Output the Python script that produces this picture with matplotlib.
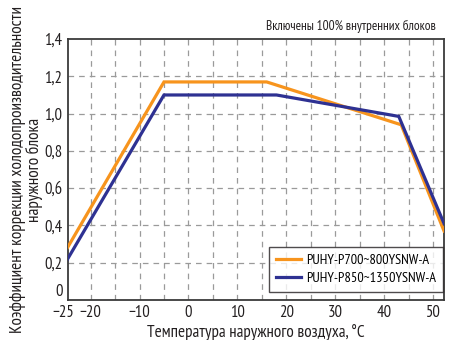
import matplotlib
matplotlib.use("Agg")
import matplotlib.pyplot as plt
import matplotlib.transforms as mtransforms

plt.rcParams['font.family'] = ['PT Sans Narrow', 'DejaVu Sans']

# Data
x_orange = [-25, -5, 16, 43.5, 52.25]
y_orange = [0.268, 1.17, 1.17, 0.94, 0.37]
x_blue = [-25, -5, 18, 43, 52.25]
y_blue = [0.206, 1.10, 1.10, 0.985, 0.41]
series_names = ["PUHY-P700~800YSNW-A", "PUHY-P850~1350YSNW-A"]
x_ticks = [-20, -10, 0, 10, 20, 30, 40, 50]
x_ticklabels = ["\u221220", "\u221210", "0", "10", "20", "30", "40", "50"]
x_first_tick = -25.6
x_first_label = "\u221225"
y_ticks = [0, 0.2, 0.4, 0.6, 0.8, 1.0, 1.2, 1.4]
y_ticklabels = ["0", "0,2", "0,4", "0,6", "0,8", "1,0", "1,2", "1,4"]

fig = plt.figure(figsize=(4.54, 3.4), dpi=100)
ax = fig.add_axes([0.150, 0.118, 0.828, 0.767])

for gx in range(-20, 51, 5):
    ax.axvline(gx, color="#9a9a9a", lw=0.9, ls=(0, (4.5, 4)), zorder=1)
for gy in y_ticks[1:-1]:
    ax.axhline(gy, color="#9a9a9a", lw=0.9, ls=(0, (4.5, 4)), zorder=1)

ax.plot(x_orange, y_orange, color="#F7941D", lw=2.3, label=series_names[0], zorder=3, solid_joinstyle="miter")
ax.plot(x_blue, y_blue, color="#2E3192", lw=2.3, label=series_names[1], zorder=3, solid_joinstyle="miter")

ax.set_xlim(-24.6, 52.25)
ax.set_ylim(0, 1.4)
ax.set_xticks(x_ticks)
ax.set_xticklabels(x_ticklabels)
ax.set_yticks(y_ticks)
ax.set_yticklabels(y_ticklabels)
ax.tick_params(length=0, labelsize=12, colors="#231f20", pad=4)
ax.get_yticklabels()[0].set_verticalalignment("bottom")
for s in ax.spines.values():
    s.set_color("#3a3a3a")
    s.set_linewidth(1.3)

# first x label (-25) sits just left of the axis edge
trans = mtransforms.blended_transform_factory(ax.transData, ax.transAxes)
ax.annotate(x_first_label, xy=(x_first_tick, 0), xycoords=trans, xytext=(0, -4),
            textcoords="offset points", ha="center", va="top", fontsize=12,
            color="#231f20", annotation_clip=False)

ax.set_xlabel("Температура наружного воздуха, °С", fontsize=12.3, color="#231f20", labelpad=2)
ylab = ax.set_ylabel("Коэффициент коррекции холодопроизводительности\nнаружного блока",
                     fontsize=11, color="#231f20", linespacing=0.95)
ax.yaxis.set_label_coords(-0.068, 0.5)

# fit y label to the figure height
fig.canvas.draw()
r = fig.canvas.get_renderer()
h = ylab.get_window_extent(r).height
ylab.set_fontsize(11 * 328.0 / h)

fig.text(0.961, 0.903, "Включены 100% внутренних блоков", ha="right", va="bottom",
         fontsize=9.5, color="#231f20")

leg = ax.legend(loc="lower right", bbox_to_anchor=(0.997, 0.03), borderaxespad=0.0, fontsize=10.3,
                frameon=True, fancybox=False, edgecolor="#231f20", handlelength=1.7,
                borderpad=0.5, labelspacing=0.35, handletextpad=0.35)
leg.get_frame().set_linewidth(1.0)

fig.savefig("out.png", dpi=100)
